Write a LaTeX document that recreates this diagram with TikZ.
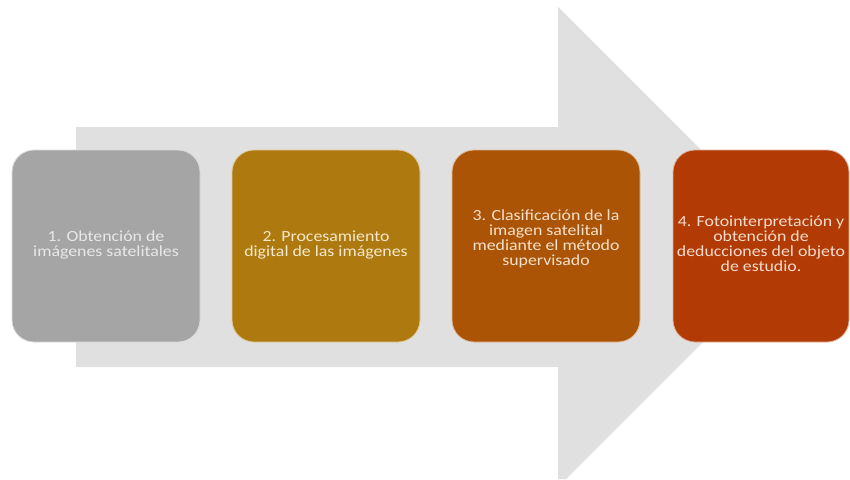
\documentclass[tikz,border=0pt]{standalone}
\usepackage{graphicx}
\usepackage{fontspec}
\setmainfont{Carlito}
\definecolor{shaft}{HTML}{E0E0E0}
\definecolor{cA}{HTML}{A5A5A5}
\definecolor{cB}{HTML}{AE7A10}
\definecolor{cC}{HTML}{AC5406}
\definecolor{cD}{HTML}{B23A05}
\definecolor{tA}{HTML}{E8E8E8}
\definecolor{tB}{HTML}{F5E8CC}
\definecolor{tC}{HTML}{F5E0CC}
\definecolor{tD}{HTML}{F5DCCC}
\newcommand{\steptxt}[1]{\scalebox{1.15}[1]{\begin{tabular}{@{}c@{}}#1\end{tabular}}}
\tikzset{
  stepbox/.style={rectangle, rounded corners=22pt, minimum height=192pt,
    line width=0.8pt, inner sep=0pt,
    font=\fontsize{15.5}{14.7}\selectfont},
  steptext/.style={inner sep=0pt, font=\fontsize{15.5}{14.7}\selectfont}
}
\begin{document}
\begin{tikzpicture}[x=1pt,y=-1pt]
\useasboundingbox (0,0) rectangle (850,479);
\fill[white] (0,0) rectangle (850,479);
\fill[shaft] (76,127) -- (558,127) -- (558,7) -- (798,247) -- (566,479) -- (558,479) -- (558,367) -- (76,367) -- cycle;
\node[stepbox, fill=cA, draw=cA!40!white, text=tA, minimum width=188pt] (s1) at (106,246)
  {\steptxt{1. Obtención de\\imágenes satelitales}};
\node[stepbox, fill=cB, draw=cB!40!white, text=tB, minimum width=188pt] (s2) at (326,246)
  {\steptxt{2. Procesamiento\\digital de las imágenes}};
\node[stepbox, fill=cC, draw=cC!40!white, minimum width=188pt] (s3) at (546,246) {};
\node[steptext, text=tC] (t3) at (546,240)
  {\steptxt{3. Clasificación de la\\imagen satelital\\mediante el método\\supervisado}};
\node[stepbox, fill=cD, draw=cD!40!white, text=tD, minimum width=176pt] (s4) at (761,246)
  {\steptxt{4. Fotointerpretación y\\obtención de\\deducciones del objeto\\de estudio.}};
\end{tikzpicture}
\end{document}
